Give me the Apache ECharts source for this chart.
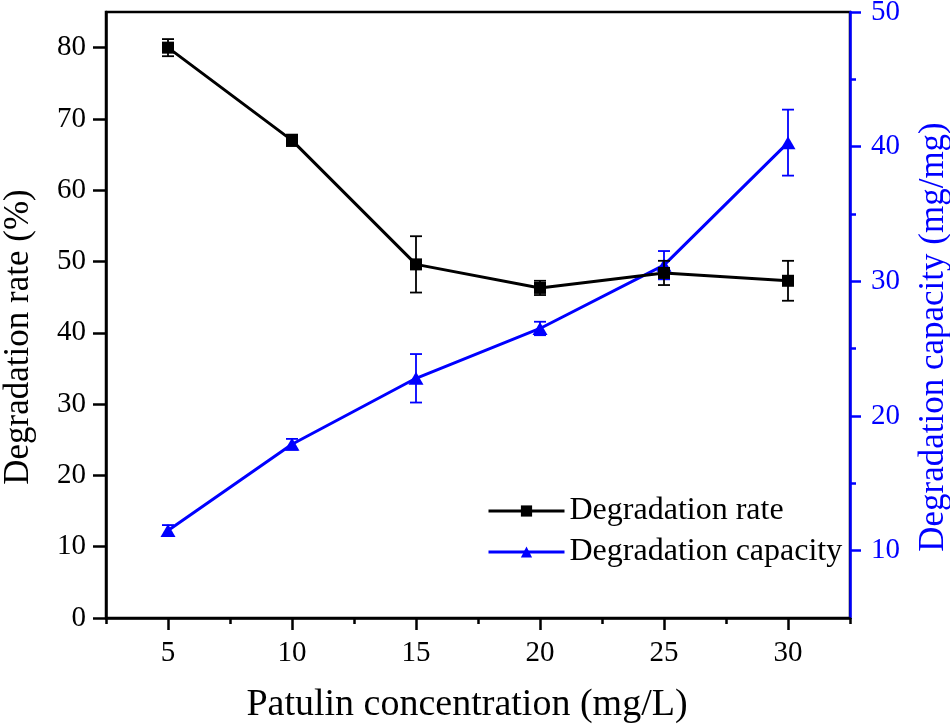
<!DOCTYPE html>
<html>
<head>
<meta charset="utf-8">
<script src="https://cdn.jsdelivr.net/npm/echarts@6/dist/echarts.min.js"></script>
<style>
html,body{margin:0;padding:0;background:#fff;}
#chart{width:950px;height:728px;}
</style>
</head>
<body>
<div id="chart"></div>
<script>
// ---- data ----
const concentrations = [5, 10, 15, 20, 25, 30];
const degradationRate = [80.0, 67.0, 49.6, 46.3, 48.4, 47.3];
const degradationRateErr = [1.2, 0.8, 3.95, 1.0, 1.7, 2.8];
const degradationCapacity = [11.5, 17.9, 22.8, 26.5, 31.2, 40.3];
const degradationCapacityErr = [0.4, 0.4, 1.8, 0.5, 1.05, 2.45];
const xMajorTicks = [5, 10, 15, 20, 25, 30];
const xMinorTicks = [2.5, 7.5, 12.5, 17.5, 22.5, 27.5, 32.5];
const leftTicks = [0, 10, 20, 30, 40, 50, 60, 70, 80];
const rightMajorTicks = [10, 20, 30, 40, 50];
const rightMinorTicks = [15, 25, 35, 45];

const FONT = 'Liberation Serif';
const BLUE = '#0000ff';
const BLACK = '#000000';

const ratePts = concentrations.map((x, i) => [x, degradationRate[i]]);
const capPts = concentrations.map((x, i) => [x, degradationCapacity[i]]);
const rateErrPts = concentrations.map((x, i) => [x, degradationRate[i] - degradationRateErr[i], degradationRate[i] + degradationRateErr[i]]);
const capErrPts = concentrations.map((x, i) => [x, degradationCapacity[i] - degradationCapacityErr[i], degradationCapacity[i] + degradationCapacityErr[i]]);

function errRenderer(color) {
  return function (params, api) {
    const x = api.value(0);
    const lo = api.coord([x, api.value(1)]);
    const hi = api.coord([x, api.value(2)]);
    const w = 6;
    const st = { stroke: color, lineWidth: 1.8 };
    return {
      type: 'group',
      children: [
        { type: 'line', shape: { x1: hi[0], y1: hi[1], x2: lo[0], y2: lo[1] }, style: st },
        { type: 'line', shape: { x1: hi[0] - w, y1: hi[1], x2: hi[0] + w, y2: hi[1] }, style: st },
        { type: 'line', shape: { x1: lo[0] - w, y1: lo[1], x2: lo[0] + w, y2: lo[1] }, style: st }
      ]
    };
  };
}

function onlyIn(list) {
  return function (v) {
    return list.some(t => Math.abs(t - v) < 1e-6) ? String(v) : '';
  };
}

// an extra axis that only draws a set of ticks
function tickAxis(base, values, len, color) {
  return Object.assign({
    type: 'value', splitLine: { show: false },
    axisLine: { show: false },
    axisLabel: { show: false },
    axisTick: { show: true, inside: false, length: len, customValues: values, lineStyle: { color: color, width: 2.5 } }
  }, base);
}

const chart = echarts.init(document.getElementById('chart'), null, { renderer: 'canvas' });
chart.setOption({
  animation: false,
  backgroundColor: '#ffffff',
  textStyle: { fontFamily: FONT },
  grid: { left: 106, right: 100, top: 12, bottom: 110, show: true, borderColor: BLACK, borderWidth: 2.5, backgroundColor: 'transparent', containLabel: false, outerBoundsMode: 'none' },
  legend: {
    orient: 'vertical',
    left: 482,
    top: 490,
    itemWidth: 76,
    itemHeight: 14,
    itemGap: 9,
    data: ['Degradation rate', 'Degradation capacity'],
    lineStyle: { width: 3 },
    textStyle: { fontFamily: FONT, fontSize: 32, color: BLACK }
  },
  xAxis: [
    {
      type: 'value', min: 2.5, max: 32.5, position: 'bottom',
      name: 'Patulin concentration (mg/L)', nameLocation: 'middle', nameGap: 68,
      nameTextStyle: { fontFamily: FONT, fontSize: 38, color: BLACK, padding: [0, 22, 0, 0] },
      axisLine: { show: true, lineStyle: { color: BLACK, width: 2.5 } },
      axisTick: { show: false },
      axisLabel: { show: true, customValues: xMajorTicks, formatter: onlyIn(xMajorTicks), fontFamily: FONT, fontSize: 29, color: BLACK, margin: 21 },
      splitLine: { show: false }
    },
    tickAxis({ min: 2.5, max: 32.5, position: 'bottom' }, xMajorTicks, 12, BLACK),
    tickAxis({ min: 2.5, max: 32.5, position: 'bottom' }, xMinorTicks, 6, BLACK)
  ],
  yAxis: [
    {
      type: 'value', min: 0, max: 85, position: 'left',
      name: 'Degradation rate (%)', nameLocation: 'middle', nameGap: 70, nameRotate: 90,
      nameTextStyle: { fontFamily: FONT, fontSize: 35, color: BLACK, padding: [0, 44, 0, 0] },
      axisLine: { show: true, lineStyle: { color: BLACK, width: 2.5 } },
      axisTick: { show: false },
      axisLabel: { show: true, customValues: leftTicks, formatter: onlyIn(leftTicks), fontFamily: FONT, fontSize: 29, color: BLACK, margin: 20 },
      splitLine: { show: false }
    },
    {
      type: 'value', min: 5, max: 50, position: 'right',
      name: 'Degradation capacity (mg/mg)', nameLocation: 'middle', nameGap: 66, nameRotate: 90,
      nameTextStyle: { fontFamily: FONT, fontSize: 35, color: BLUE, padding: [0, 44, 0, 0] },
      axisLine: { show: true, lineStyle: { color: BLUE, width: 2.5 } },
      axisTick: { show: false },
      axisLabel: { show: true, customValues: rightMajorTicks, formatter: onlyIn(rightMajorTicks), fontFamily: FONT, fontSize: 29, color: BLUE, margin: 21 },
      splitLine: { show: false }
    },
    tickAxis({ min: 0, max: 85, position: 'left' }, leftTicks, 13, BLACK),
    tickAxis({ min: 5, max: 50, position: 'right' }, rightMajorTicks, 11, BLUE),
    tickAxis({ min: 5, max: 50, position: 'right' }, rightMinorTicks, 6, BLUE)
  ],
  series: [
    {
      name: 'Degradation capacity', type: 'line', xAxisIndex: 0, yAxisIndex: 1,
      data: capPts, symbol: 'triangle', symbolSize: [15, 13],
      lineStyle: { color: BLUE, width: 3 }, itemStyle: { color: BLUE }, z: 3
    },
    {
      name: 'capacity error', type: 'custom', xAxisIndex: 0, yAxisIndex: 1,
      data: capErrPts, encode: { x: 0, y: [1, 2] }, renderItem: errRenderer(BLUE), z: 3
    },
    {
      name: 'Degradation rate', type: 'line', xAxisIndex: 0, yAxisIndex: 0,
      data: ratePts, symbol: 'rect', symbolSize: 12,
      lineStyle: { color: BLACK, width: 3 }, itemStyle: { color: BLACK }, z: 4
    },
    {
      name: 'rate error', type: 'custom', xAxisIndex: 0, yAxisIndex: 0,
      data: rateErrPts, encode: { x: 0, y: [1, 2] }, renderItem: errRenderer(BLACK), z: 4
    }
  ]
});
</script>
</body>
</html>
